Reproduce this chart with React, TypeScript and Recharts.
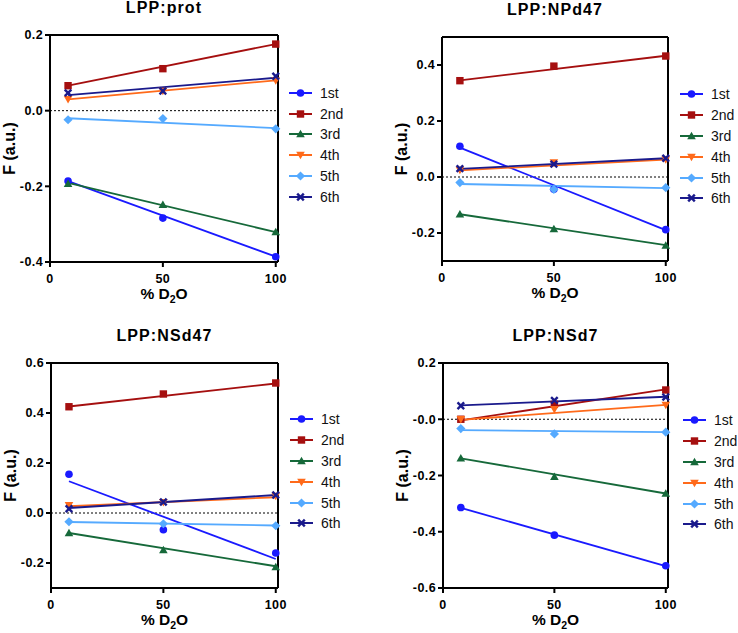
import React from 'react'
import {
  ComposedChart,
  Scatter,
  XAxis,
  YAxis,
  ReferenceLine,
  Legend
} from 'recharts'

const FONT = '"Liberation Sans", Arial, sans-serif'

const xPct = [8, 50, 100]
const fitX = [8, 100]
const seriesNames = ['1st', '2nd', '3rd', '4th', '5th', '6th']
const seriesColors = ['#1a1aff', '#a50f0f', '#16693a', '#ff6a1a', '#55aaff', '#1a1a8c']
const markerKinds = ['circle', 'square', 'triangle', 'triangleDown', 'diamond', 'x']
const xTicks = [0, 50, 100]
const xDomain = [0, 101]

// LPP:prot
const protPts = [
  [-0.186, -0.284, -0.386],
  [0.066, 0.111, 0.176],
  [-0.193, -0.249, -0.321],
  [0.030, 0.052, 0.080],
  [-0.024, -0.021, -0.048],
  [0.047, 0.052, 0.091]
]
const protFit = [
  [-0.186, -0.386],
  [0.066, 0.176],
  [-0.191, -0.321],
  [0.030, 0.080],
  [-0.020, -0.046],
  [0.041, 0.087]
]
const protTicks = [-0.4, -0.2, 0, 0.2]
const protTickLabels = ['-0.4', '-0.2', '0.0', '0.2']

// LPP:NPd47
const npd47Pts = [
  [0.110, -0.044, -0.188],
  [0.344, 0.396, 0.432],
  [-0.133, -0.186, -0.245],
  [0.025, 0.052, 0.063],
  [-0.020, -0.044, -0.038],
  [0.030, 0.046, 0.067]
]
const npd47Fit = [
  [0.105, -0.190],
  [0.345, 0.433],
  [-0.133, -0.243],
  [0.024, 0.062],
  [-0.025, -0.040],
  [0.029, 0.067]
]
const npd47Ticks = [-0.2, 0, 0.2, 0.4]
const npd47TickLabels = ['-0.2', '0.0', '0.2', '0.4']

// LPP:NSd47
const nsd47Pts = [
  [0.155, -0.067, -0.160],
  [0.425, 0.476, 0.520],
  [-0.080, -0.148, -0.216],
  [0.031, 0.043, 0.068],
  [-0.035, -0.043, -0.051],
  [0.017, 0.044, 0.072]
]
const nsd47Fit = [
  [0.127, -0.184],
  [0.426, 0.518],
  [-0.080, -0.213],
  [0.027, 0.063],
  [-0.036, -0.050],
  [0.020, 0.072]
]
const nsd47Ticks = [-0.2, 0, 0.2, 0.4, 0.6]
const nsd47TickLabels = ['-0.2', '0.0', '0.2', '0.4', '0.6']

// LPP:NSd7
const nsd7Pts = [
  [-0.314, -0.412, -0.521],
  [0.0, 0.053, 0.104],
  [-0.139, -0.205, -0.264],
  [0.0, 0.036, 0.051],
  [-0.033, -0.052, -0.046],
  [0.048, 0.067, 0.079]
]
const nsd7Fit = [
  [-0.315, -0.522],
  [-0.004, 0.106],
  [-0.139, -0.264],
  [-0.002, 0.051],
  [-0.039, -0.046],
  [0.049, 0.080]
]
const nsd7Ticks = [-0.6, -0.4, -0.2, 0, 0.2]
const nsd7TickLabels = ['-0.6', '-0.4', '-0.2', '-0.0', '0.2']

const W = 370
const H = 313
const X_AXIS_H = 48

function Marker({ cx, cy, kind, color }: any) {
  if (cx == null || cy == null) return <g />
  switch (kind) {
    case 'circle':
      return <circle cx={cx} cy={cy} r={3.8} fill={color} />
    case 'square':
      return <rect x={cx - 3.7} y={cy - 3.7} width={7.4} height={7.4} fill={color} />
    case 'triangle':
      return <polygon points={`${cx},${cy - 4.3} ${cx + 4.3},${cy + 3.2} ${cx - 4.3},${cy + 3.2}`} fill={color} />
    case 'triangleDown':
      return <polygon points={`${cx},${cy + 4.3} ${cx + 4.3},${cy - 3.2} ${cx - 4.3},${cy - 3.2}`} fill={color} />
    case 'diamond':
      return <polygon points={`${cx},${cy - 4.6} ${cx + 4.6},${cy} ${cx},${cy + 4.6} ${cx - 4.6},${cy}`} fill={color} />
    case 'x':
      return (
        <g stroke={color} strokeWidth={2.4}>
          <line x1={cx - 3.3} y1={cy - 3.3} x2={cx + 3.3} y2={cy + 3.3} />
          <line x1={cx - 3.3} y1={cy + 3.3} x2={cx + 3.3} y2={cy - 3.3} />
        </g>
      )
    default:
      return <g />
  }
}

const noShape = () => <g />

function LegendBox() {
  return (
    <div style={{ fontFamily: FONT }}>
      {seriesNames.map((name, i) => (
        <div key={name} style={{ display: 'flex', alignItems: 'center', height: 20.8 }}>
          <svg width={23} height={12} style={{ display: 'block' }}>
            <line x1={0} y1={6} x2={23} y2={6} stroke={seriesColors[i]} strokeWidth={2} />
            <Marker cx={11.5} cy={6} kind={markerKinds[i]} color={seriesColors[i]} />
          </svg>
          <span style={{ marginLeft: 8, fontSize: 14, color: '#111', lineHeight: '14px' }}>{name}</span>
        </div>
      ))}
    </div>
  )
}

type PanelProps = {
  title: string
  left: number
  top: number
  plot: { left: number; right: number; top: number; bottom: number }
  pts: number[][]
  fit: number[][]
  yDomain: number[]
  yTicks: number[]
  yTickLabels: string[]
  legendPos: { left: number; top: number }
}

function Panel(p: PanelProps) {
  const axisStroke = { stroke: '#000', strokeWidth: 2 }
  const tickStyle = { fill: '#000', fontSize: 12.5, fontWeight: 700, fontFamily: FONT, letterSpacing: 0.4 }
  return (
    <div style={{ position: 'absolute', left: p.left, top: p.top, width: W, height: H }}>
      <div
        style={{
          position: 'absolute',
          left: p.plot.left,
          width: p.plot.right - p.plot.left,
          top: p.plot.top - 35,
          textAlign: 'center',
          fontFamily: FONT,
          fontWeight: 700,
          fontSize: 16,
          letterSpacing: 1.1,
          lineHeight: '16px',
          color: '#000'
        }}
      >
        {p.title}
      </div>
      <ComposedChart
        width={W}
        height={H}
        margin={{ top: p.plot.top, right: W - p.plot.right, bottom: H - p.plot.bottom - X_AXIS_H, left: 0 }}
      >
        <XAxis
          type="number"
          dataKey="x"
          domain={xDomain}
          ticks={xTicks}
          height={X_AXIS_H}
          axisLine={axisStroke}
          tickLine={axisStroke}
          tickSize={5}
          tickMargin={7}
          tick={tickStyle}
          label={(lp: any) => {
            const vb = lp.viewBox
            if (!vb) return null
            return (
              <text x={vb.x + vb.width / 2} y={vb.y + 37} textAnchor="middle" fontFamily={FONT} fontWeight={700} fontSize={15.5} fill="#000">
                % D<tspan fontSize={10.5} dy={4}>2</tspan><tspan dy={-4}>O</tspan>
              </text>
            )
          }}
        />
        <YAxis
          type="number"
          domain={p.yDomain}
          ticks={p.yTicks}
          width={p.plot.left}
          axisLine={axisStroke}
          tickLine={axisStroke}
          tickSize={5}
          tickMargin={2}
          tick={tickStyle}
          tickFormatter={(v: number) => {
            const k = p.yTicks.indexOf(v)
            return k >= 0 ? p.yTickLabels[k] : String(v)
          }}
          label={(lp: any) => {
            const vb = lp.viewBox
            if (!vb) return null
            const x = vb.x + vb.width - 35
            const y = vb.y + vb.height / 2
            return (
              <text x={x} y={y} transform={`rotate(-90 ${x} ${y})`} textAnchor="middle" fontFamily={FONT} fontWeight={700} fontSize={16} fill="#000">
                F (a.u.)
              </text>
            )
          }}
        />
        <ReferenceLine y={0} stroke="#000" strokeWidth={1} strokeDasharray="2 2" />
        <ReferenceLine y={p.yDomain[1]} stroke="#000" strokeWidth={2} ifOverflow="visible" />
        <ReferenceLine x={xDomain[1]} stroke="#000" strokeWidth={2} ifOverflow="visible" />
        {p.fit.map((f, i) => (
          <Scatter
            key={'fit' + i}
            data={fitX.map((x, j) => ({ x, y: f[j] }))}
            dataKey="y"
            fill={seriesColors[i]}
            line={{ stroke: seriesColors[i], strokeWidth: 1.8 }}
            shape={noShape}
            legendType="none"
            isAnimationActive={false}
          />
        ))}
        {p.pts.map((vals, i) => (
          <Scatter
            key={'pts' + i}
            name={seriesNames[i]}
            data={xPct.map((x, j) => ({ x, y: vals[j] }))}
            dataKey="y"
            fill={seriesColors[i]}
            shape={(sp: any) => <Marker cx={sp.cx} cy={sp.cy} kind={markerKinds[i]} color={seriesColors[i]} />}
            isAnimationActive={false}
          />
        ))}
        <Legend
          layout="vertical"
          align="center"
          verticalAlign="middle"
          wrapperStyle={{ left: p.legendPos.left, top: p.legendPos.top, width: 80 }}
          content={() => <LegendBox />}
        />
      </ComposedChart>
    </div>
  )
}

export default function App() {
  return (
    <div style={{ position: 'absolute', left: 0, top: 0, width: 738, height: 633, background: '#fff' }}>
      <Panel
        title="LPP:prot"
        left={0}
        top={0}
        plot={{ left: 50, right: 278, top: 35, bottom: 262 }}
        pts={protPts}
        fit={protFit}
        yDomain={[-0.4, 0.2]}
        yTicks={protTicks}
        yTickLabels={protTickLabels}
        legendPos={{ left: 289, top: 82.5 }}
      />
      <Panel
        title="LPP:NPd47"
        left={370}
        top={0}
        plot={{ left: 72, right: 298, top: 37, bottom: 261 }}
        pts={npd47Pts}
        fit={npd47Fit}
        yDomain={[-0.3, 0.5]}
        yTicks={npd47Ticks}
        yTickLabels={npd47TickLabels}
        legendPos={{ left: 310, top: 84 }}
      />
      <Panel
        title="LPP:NSd47"
        left={0}
        top={320}
        plot={{ left: 51, right: 278, top: 43, bottom: 268 }}
        pts={nsd47Pts}
        fit={nsd47Fit}
        yDomain={[-0.3, 0.6]}
        yTicks={nsd47Ticks}
        yTickLabels={nsd47TickLabels}
        legendPos={{ left: 290, top: 89 }}
      />
      <Panel
        title="LPP:NSd7"
        left={370}
        top={320}
        plot={{ left: 73, right: 298, top: 43, bottom: 268 }}
        pts={nsd7Pts}
        fit={nsd7Fit}
        yDomain={[-0.6, 0.2]}
        yTicks={nsd7Ticks}
        yTickLabels={nsd7TickLabels}
        legendPos={{ left: 313, top: 90 }}
      />
    </div>
  )
}
